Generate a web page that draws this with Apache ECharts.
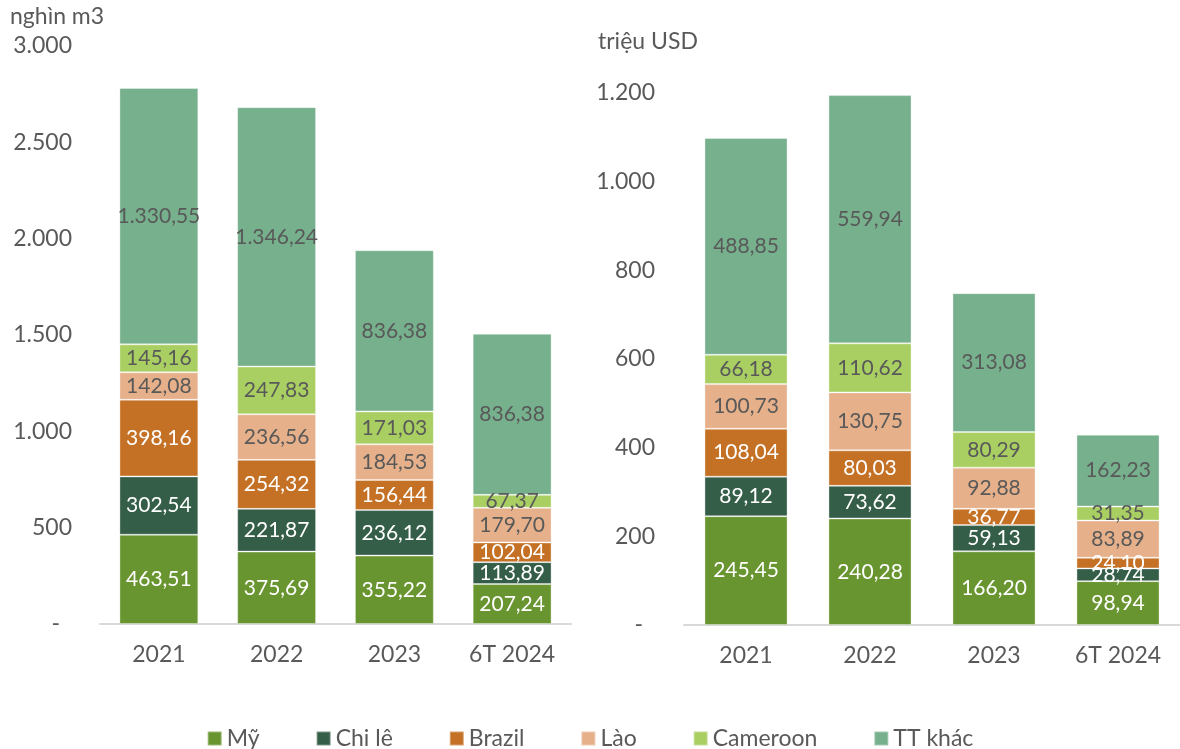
<!DOCTYPE html>
<html>
<head>
<meta charset="utf-8">
<script src="https://cdn.jsdelivr.net/npm/echarts@6/dist/echarts.min.js"></script>
<style>
  html, body { margin: 0; padding: 0; background: #fff; }
  #chart { width: 1180px; height: 749px; }
</style>
</head>
<body>
<div id="chart"></div>
<script>
// Years on the category axis
const categories = ['2021', '2022', '2023', '6T 2024'];
const seriesNames = ['Mỹ', 'Chi lê', 'Brazil', 'Lào', 'Cameroon', 'TT khác'];

// Volume, thousand m3
const volMy       = [463.51, 375.69, 355.22, 207.24];
const volChile    = [302.54, 221.87, 236.12, 113.89];
const volBrazil   = [398.16, 254.32, 156.44, 102.04];
const volLao      = [142.08, 236.56, 184.53, 179.70];
const volCameroon = [145.16, 247.83, 171.03, 67.37];
const volOther    = [1330.55, 1346.24, 836.38, 836.38];

// Value, million USD
const valMy       = [245.45, 240.28, 166.20, 98.94];
const valChile    = [89.12, 73.62, 59.13, 28.74];
const valBrazil   = [108.04, 80.03, 36.77, 24.10];
const valLao      = [100.73, 130.75, 92.88, 83.89];
const valCameroon = [66.18, 110.62, 80.29, 31.35];
const valOther    = [488.85, 559.94, 313.08, 162.23];

const leftTicks = { min: 0, max: 3000, interval: 500 };
const rightTicks = { min: 0, max: 1200, interval: 200 };

const colors = ['#699530', '#345e48', '#c47125', '#e6b08a', '#a9cf62', '#76b08c'];
const labelColors = ['#ffffff', '#ffffff', '#ffffff', '#595959', '#595959', '#595959'];
const FONT = 'Lato, "Open Sans", sans-serif';
const GRAY = '#595959';

function fmtNum(v, digits) {
  const parts = v.toFixed(digits).split('.');
  const intPart = parts[0].replace(/\B(?=(\d{3})+(?!\d))/g, '.');
  return digits > 0 ? intPart + ',' + parts[1] : intPart;
}

function makeSeries(dataArrays, axisIndex, stackName) {
  return dataArrays.map((arr, i) => ({
    name: seriesNames[i],
    type: 'bar',
    stack: stackName,
    xAxisIndex: axisIndex,
    yAxisIndex: axisIndex,
    barCategoryGap: '33%',
    data: arr,
    itemStyle: { color: colors[i], borderColor: 'rgba(255,255,255,0.35)', borderWidth: 1 },
    label: {
      show: true,
      position: 'inside',
      color: labelColors[i],
      fontFamily: FONT,
      fontSize: 21,
      formatter: p => fmtNum(p.value, 2)
    }
  }));
}

function yAxisCfg(ticks, gridIndex, margin) {
  return {
    type: 'value',
    gridIndex: gridIndex,
    min: ticks.min,
    max: ticks.max,
    interval: ticks.interval,
    splitLine: { show: false },
    axisLine: { show: false },
    axisTick: { show: false },
    axisLabel: {
      margin: margin,
      color: GRAY,
      fontFamily: FONT,
      fontSize: 23,
      formatter: v => v === 0 ? '{dash|-}' : fmtNum(v, 0),
      rich: { dash: { color: GRAY, fontFamily: FONT, fontSize: 23, padding: [0, 12, 0, 0] } }
    }
  };
}

function xAxisCfg(gridIndex) {
  return {
    type: 'category',
    gridIndex: gridIndex,
    data: categories,
    axisLine: { show: true, lineStyle: { color: '#d9d9d9', width: 2 } },
    axisTick: { show: false },
    axisLabel: { margin: 19, color: GRAY, fontFamily: FONT, fontSize: 23 }
  };
}

const chart = echarts.init(document.getElementById('chart'));
chart.setOption({
  animation: false,
  backgroundColor: '#ffffff',
  textStyle: { fontFamily: FONT },
  grid: [
    { left: 100, right: 609, top: 46, bottom: 125 },
    { left: 684, right: 0, top: 93, bottom: 124 }
  ],
  xAxis: [xAxisCfg(0), xAxisCfg(1)],
  yAxis: [yAxisCfg(leftTicks, 0, 28), yAxisCfg(rightTicks, 1, 29)],
  legend: {
    data: seriesNames,
    left: 'center',
    top: 722,
    icon: 'rect',
    itemWidth: 14,
    itemHeight: 14,
    itemGap: 56,
    textStyle: { color: GRAY, fontFamily: FONT, fontSize: 23 }
  },
  graphic: [
    { type: 'text', left: 10, top: 5, style: { text: 'nghìn m3', fill: GRAY, font: '23px ' + FONT } },
    { type: 'text', left: 598, top: 30, style: { text: 'triệu USD', fill: GRAY, font: '23px ' + FONT } }
  ],
  series: [
    ...makeSeries([volMy, volChile, volBrazil, volLao, volCameroon, volOther], 0, 'vol'),
    ...makeSeries([valMy, valChile, valBrazil, valLao, valCameroon, valOther], 1, 'val')
  ]
});
</script>
</body>
</html>
